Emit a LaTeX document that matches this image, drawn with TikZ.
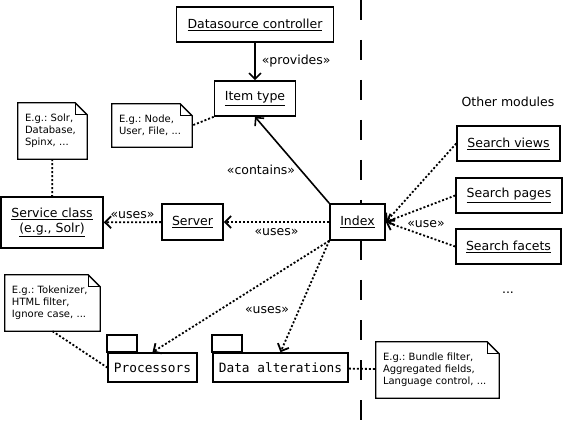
\documentclass[tikz,border=0pt]{standalone}
\usepackage{fontspec}
\setmainfont{DejaVu Sans}
\setmonofont{DejaVu Sans Mono}
\usetikzlibrary{arrows.meta}
\frenchspacing

\begin{document}
\begin{tikzpicture}[x=1pt,y=-1pt,
  every node/.style={font=\fontsize{12.5}{15}\selectfont,inner sep=0},
  cls/.style={draw,line width=1.6pt,fill=white,minimum height=35pt},
  note/.style={font=\fontsize{10}{12}\selectfont,align=left,fill=white},
  pkg/.style={draw,line width=1.6pt,fill=white,font=\ttfamily\fontsize{12.8}{15}\selectfont,minimum height=29pt},
  uses/.style={line width=1.8pt,dash pattern=on 2pt off 2pt},
  dep/.style={uses,-{Straight Barb[length=6pt,width=12pt]}},
  sol/.style={line width=1.6pt,-{Straight Barb[length=6pt,width=12pt]}}]

\useasboundingbox (0,0) rectangle (563,441);
% module border
\draw[line width=1.6pt,dash pattern=on 20pt off 20pt] (361,0) -- (361,420);

\node[cls,minimum width=157pt] (ds) at (255,24.5) {\underline{Datasource controller}};
\node[cls,minimum width=81pt] (item) at (255,98.5) {\underline{Item type}};
\node[cls,minimum width=102pt,minimum height=51pt,align=center] (svc) at (52,222.5) {\underline{Service class}\\\underline{(e.g., Solr)}};
\node[cls,minimum width=61pt,minimum height=36pt] (server) at (192.5,222) {\underline{Server}};
\node[cls,minimum width=55pt,minimum height=36pt] (index) at (357.5,222) {\underline{Index}};

\node (other) at (508,102) {Other modules};
\node[cls,minimum width=103pt] (views) at (508.5,143.5) {\underline{Search views}};
\node[cls,minimum width=106pt] (pages) at (509,195.5) {\underline{Search pages}};
\node[cls,minimum width=105pt] (facets) at (508.5,246.5) {\underline{Search facets}};
\node (more) at (508,293) {...};

\node[pkg,minimum width=89pt] (proc) at (152.5,367.5) {Processors};
\node[pkg,minimum width=135pt] (dalt) at (280.5,367.5) {Data alterations};

% notes
\node[note,minimum width=80pt,minimum height=43pt,text width=66pt] (nnode) at (152,125.5) {E.g.: Node,\\User, File, ...};
\node[note,minimum width=69pt,minimum height=56pt,text width=55pt] (nsolr) at (52.5,131) {E.g.: Solr,\\Database,\\Spinx, ...};
\node[note,minimum width=95pt,minimum height=56pt,text width=81pt] (ntok) at (52.5,303) {E.g.: Tokenizer,\\HTML filter,\\Ignore case, ...};
\node[note,minimum width=123pt,minimum height=56pt,text width=109pt] (nbundle) at (437.5,370) {E.g.: Bundle filter,\\Aggregated fields,\\Language control, ...};
\foreach \n in {nnode,nsolr,ntok,nbundle} {
  \draw[line width=1.3pt] (\n.north west) -- ([xshift=-12pt]\n.north east) -- ([yshift=-12pt]\n.north east)
    -- (\n.south east) -- (\n.south west) -- cycle;
  \draw[line width=1pt] ([xshift=-12pt]\n.north east) |- ([yshift=-12pt]\n.north east);
}
% package tabs
\foreach \p in {proc,dalt}
  \draw[line width=1.6pt] (\p.north west) rectangle ++(30,-17);

% connectors
\draw[sol] (ds) -- (item) node[midway,right=6pt] {«provides»};
\draw[sol] (index.north west) -- (item.south);
\node at (261,170) {«contains»};
\draw[uses] (item.south west) -- (nnode.east);
\draw[uses] (nsolr) -- (svc);
\draw[dep] (server) -- (svc) node[midway,above=3pt] {«uses»};
\draw[dep] (index) -- (server) node[midway,below=6pt] {«uses»};
\draw[dep] (index.south west) -- (proc.north);
\draw[dep] (index.south west) -- (dalt.north);
\node at (267,310) {«uses»};
\draw[dep] (views.west) -- (index.east);
\draw[dep] (pages.west) -- (index.east);
\draw[dep] (facets.west) -- (index.east);
\node at (426,224) {«use»};
\draw[uses] (ntok.south) -- (proc.west);
\draw[uses] (dalt) -- (nbundle);

\end{tikzpicture}
\end{document}
